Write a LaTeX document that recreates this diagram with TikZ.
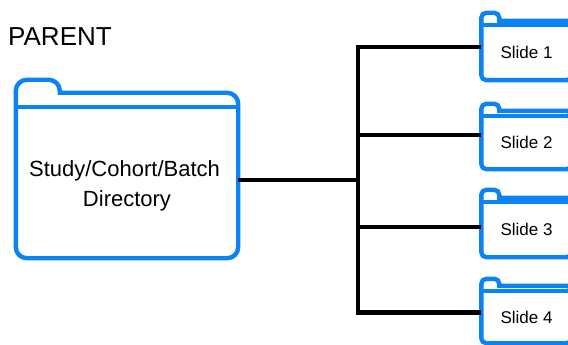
\documentclass[tikz,border=0pt]{standalone}
\usepackage{fontspec}
\setmainfont{Liberation Sans}
\definecolor{folderblue}{HTML}{0A84F5}

\newcommand{\drawfolder}[5]{
\draw [folderline,rounded corners=#5] (#1.west) -- ([yshift=#2+#3]#1.north west)
  -- ([xshift=#4,yshift=#2+#3]#1.north west)
  [sharp corners] -- ([xshift=#4,yshift=#2]#1.north west)
  [rounded corners=#5] -- ([yshift=#2]#1.north east) -- (#1.south east) -- (#1.south west) -- cycle;
\draw [folderline] (#1.north west) to (#1.north east);
}

\begin{document}
\begin{tikzpicture}[x=1pt,y=-1pt,
  folderline/.style={draw=folderblue,line width=4.4pt},
  linkline/.style={draw=black,line width=4.6pt},
  bigfolder/.style={inner sep=0pt,minimum width=222pt,minimum height=151pt,align=center,font=\fontsize{22}{30}\selectfont},
  smallfolder/.style={inner sep=0pt,minimum width=90pt,minimum height=55pt,font=\fontsize{17}{20}\selectfont}]

\useasboundingbox (0,0) rectangle (568,345);
\clip (0,0) rectangle (568,345);

\path (60,37) node (title) [font=\fontsize{26}{30}\selectfont] {PARENT};

\path (127,182.5) node (main) [bigfolder] {\smash{\raisebox{-9pt}{Study/Cohort/Batch}}\hspace*{5pt}\\\smash{\raisebox{-9pt}{Directory}}};
\path (526.5,52.5) node (slide1) [smallfolder] {Slide 1};
\path (526.5,142.5) node (slide2) [smallfolder,minimum height=53pt] {Slide 2};
\path (526.5,229.5) node (slide3) [smallfolder] {Slide 3};
\path (526.5,317) node (slide4) [smallfolder,minimum height=52pt] {Slide 4};

\drawfolder{main}{14pt}{13pt}{44pt}{11pt}
\drawfolder{slide1}{4pt}{8pt}{18pt}{5pt}
\drawfolder{slide2}{5pt}{7pt}{18pt}{5pt}
\drawfolder{slide3}{4pt}{8pt}{18pt}{5pt}
\drawfolder{slide4}{5pt}{7pt}{18pt}{5pt}

\coordinate (hub) at (358,180);
\coordinate (top) at (358,47);
\coordinate (upper) at (358,135);
\coordinate (lower) at (358,227);
\coordinate (bottom) at (358,312.5);

\draw [linkline] (main.east |- hub) to (hub);
\draw [linkline,line cap=rect] (top) to (bottom);
\draw [linkline] (top) to (slide1.west |- top);
\draw [linkline] (upper) to (slide2.west |- upper);
\draw [linkline] (lower) to (slide3.west |- lower);
\draw [linkline] (bottom) to (slide4.west |- bottom);

\end{tikzpicture}
\end{document}
